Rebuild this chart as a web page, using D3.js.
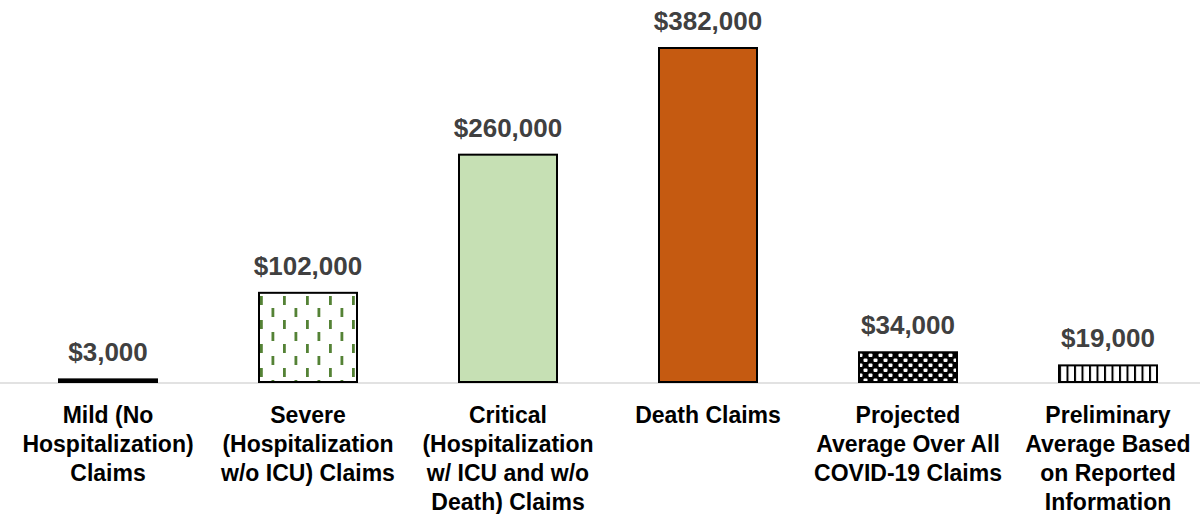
<!DOCTYPE html>
<html>
<head>
<meta charset="utf-8">
<script src="https://cdn.jsdelivr.net/npm/d3@7"></script>
<style>
  body { margin: 0; background: #fff; }
  .val { font-family: "Liberation Sans", Arial, sans-serif; font-weight: bold; font-size: 26px; fill: #404040; }
  .cat { font-family: "Liberation Sans", Arial, sans-serif; font-weight: bold; font-size: 23px; fill: #000; }
</style>
</head>
<body>
<div id="chart"></div>
<script>
// Chart data
var categories = [
  ["Mild (No", "Hospitalization)", "Claims"],
  ["Severe", "(Hospitalization", "w/o ICU) Claims"],
  ["Critical", "(Hospitalization", "w/ ICU and w/o", "Death) Claims"],
  ["Death Claims"],
  ["Projected", "Average Over All", "COVID-19 Claims"],
  ["Preliminary", "Average Based", "on Reported", "Information"]
];
var values = [3000, 102000, 260000, 382000, 34000, 19000];
var fills = ["#000000", "url(#dashes)", "#c6e0b4", "#c55a11", "url(#checks)", "url(#stripes)"];

var width = 1200, height = 514;
var baseY = 382;

var svg = d3.select("#chart")
  .append("svg")
  .attr("width", width)
  .attr("height", height);

// Patterns for the hatched bars
var defs = svg.append("defs");

var p1 = defs.append("pattern")
  .attr("id", "dashes")
  .attr("patternUnits", "userSpaceOnUse")
  .attr("width", 23).attr("height", 24)
  .attr("x", 260).attr("y", 296);
p1.append("rect").attr("width", 23).attr("height", 24).attr("fill", "#fff");
p1.append("rect").attr("x", 0).attr("y", 0).attr("width", 2.8).attr("height", 9).attr("fill", "#548235");
p1.append("rect").attr("x", 11.5).attr("y", 12).attr("width", 2.8).attr("height", 9).attr("fill", "#548235");

var p2 = defs.append("pattern")
  .attr("id", "checks")
  .attr("patternUnits", "userSpaceOnUse")
  .attr("width", 10).attr("height", 10)
  .attr("x", 858).attr("y", 353);
p2.append("rect").attr("width", 10).attr("height", 10).attr("fill", "#000");
p2.append("rect").attr("x", 0.5).attr("y", 0.5).attr("width", 4).attr("height", 3.5).attr("rx", 1).attr("fill", "#fff");
p2.append("rect").attr("x", 5.5).attr("y", 5.5).attr("width", 4).attr("height", 3.5).attr("rx", 1).attr("fill", "#fff");

var p3 = defs.append("pattern")
  .attr("id", "stripes")
  .attr("patternUnits", "userSpaceOnUse")
  .attr("width", 7.5).attr("height", 10)
  .attr("x", 1059).attr("y", 0);
p3.append("rect").attr("width", 7.5).attr("height", 10).attr("fill", "#fff");
p3.append("rect").attr("x", 0).attr("width", 2).attr("height", 10).attr("fill", "#000");

// Scales
var x = d3.scaleBand()
  .domain(d3.range(values.length))
  .range([8, 1208])
  .paddingInner(0.51)
  .paddingOuter(0.255);

var y = d3.scaleLinear()
  .domain([0, 382000])
  .range([baseY, 48]);

// Axis line
svg.append("line")
  .attr("x1", 0).attr("x2", width)
  .attr("y1", baseY + 1).attr("y2", baseY + 1)
  .attr("stroke", "#d9d9d9")
  .attr("stroke-width", 1.5);

// Bars
svg.selectAll(".bar")
  .data(values)
  .enter().append("rect")
  .attr("class", "bar")
  .attr("x", function(d, i) { return x(i); })
  .attr("y", function(d) { return y(d); })
  .attr("width", x.bandwidth())
  .attr("height", function(d) { return baseY - y(d); })
  .attr("fill", function(d, i) { return fills[i]; })
  .attr("stroke", "#000")
  .attr("stroke-width", 2);

// Value labels
svg.selectAll(".val")
  .data(values)
  .enter().append("text")
  .attr("class", "val")
  .attr("x", function(d, i) { return x(i) + x.bandwidth() / 2; })
  .attr("y", function(d) { return y(d) - 18; })
  .attr("text-anchor", "middle")
  .text(function(d) { return "$" + d3.format(",")(d); });

// Category labels
var cat = svg.selectAll(".cat")
  .data(categories)
  .enter().append("text")
  .attr("class", "cat")
  .attr("text-anchor", "middle")
  .attr("x", function(d, i) { return x(i) + x.bandwidth() / 2; })
  .attr("y", 423);

cat.selectAll("tspan")
  .data(function(d, i) { return d.map(function(s) { return { s: s, i: i }; }); })
  .enter().append("tspan")
  .attr("x", function(d) { return x(d.i) + x.bandwidth() / 2; })
  .attr("dy", function(d, j) { return j === 0 ? 0 : 29; })
  .text(function(d) { return d.s; });
</script>
</body>
</html>
